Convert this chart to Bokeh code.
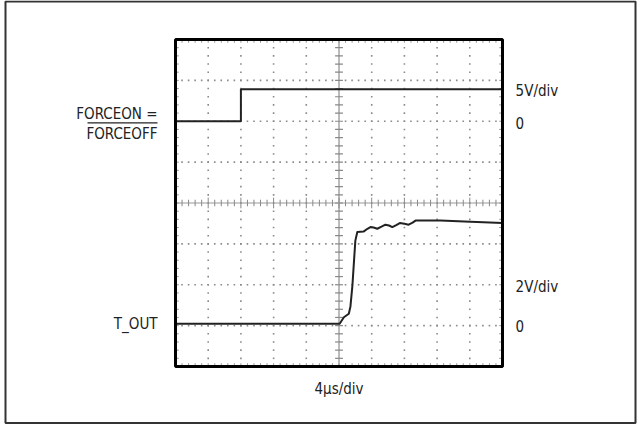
import numpy as np
from bokeh.plotting import figure
from bokeh.models import Range1d
from bokeh.core.properties import value
from bokeh.embed import file_html
from bokeh.resources import INLINE

# ---------------- data (scope divisions) ----------------
n_xdiv = 10
n_ydiv = 8

forceon_x = [0.0, 2.0, 2.0, 10.0]
forceon_y = [6.0, 6.0, 6.78, 6.78]

tout_x = [0.0, 5.02, 5.15, 5.30, 5.35, 5.41, 5.47, 5.50, 5.56, 5.75, 5.87, 5.96, 6.06,
          6.17, 6.30, 6.42, 6.53, 6.63, 6.75, 6.86, 7.00, 7.13, 7.25, 7.34, 8.10,
          9.02, 10.0]
tout_y = [1.045, 1.045, 1.206, 1.29, 1.47, 1.98, 2.72, 3.08, 3.29, 3.30, 3.37, 3.41, 3.40,
          3.37, 3.42, 3.47, 3.45, 3.41, 3.46, 3.51, 3.49, 3.47, 3.52, 3.57, 3.57,
          3.54, 3.51]

left_labels = ["FORCEON =", "FORCEOFF", "T_OUT"]
left_label_y = [6.18, 5.68, 1.03]
right_labels = ["5V/div", "0", "2V/div", "0"]
right_label_y = [6.74, 5.95, 1.94, 1.00]
time_label = "4\u03bcs/div"

# ---------------- layout ----------------
W, H = 637, 427
PX_X = 32.7      # px per x division
PX_Y = 40.875    # px per y division
scope_left_px = 175
scope_bottom_px = 366

x0 = -scope_left_px / PX_X
x1 = x0 + W / PX_X
y1 = scope_bottom_px / PX_Y
y0 = y1 - H / PX_Y

p = figure(width=W, height=H, output_backend="svg", toolbar_location=None,
           x_range=Range1d(x0, x1), y_range=Range1d(y0, y1),
           min_border=0, x_axis_type=None, y_axis_type=None)
p.grid.visible = False
p.outline_line_color = None
p.background_fill_color = "white"
p.border_fill_color = "white"

FONT = value("DejaVu Sans Condensed")
grey = "#8a8a8a"

# outer border
p.quad(left=x0 + 5 / PX_X, right=x1 - 2 / PX_X, bottom=y0 + 4.5 / PX_Y, top=y1 - 1 / PX_Y,
       fill_color=None, line_color="#333333", line_width=2)

# dotted grid
dots_x, dots_y = [], []
for gx in range(1, n_xdiv):
    if gx == n_xdiv // 2:
        continue
    ys = np.arange(0, n_ydiv + 0.001, 0.2)
    dots_x += [gx] * len(ys)
    dots_y += list(ys)
for gy in range(1, n_ydiv):
    if gy == n_ydiv // 2:
        continue
    xs = np.arange(0, n_xdiv + 0.001, 0.2)
    dots_x += list(xs)
    dots_y += [gy] * len(xs)
p.scatter(dots_x, dots_y, marker="square", size=1.6, fill_color=grey,
          line_color=None)

# center lines
cx, cy = n_xdiv / 2, n_ydiv / 2
p.segment(x0=[0], y0=[cy], x1=[n_xdiv], y1=[cy], line_color="#999999", line_width=1.2)
p.segment(x0=[cx], y0=[0], x1=[cx], y1=[n_ydiv], line_color="#bbbbbb", line_width=2)

# ticks on the center lines
tx = np.arange(0, n_xdiv + 0.001, 0.2)
tlen = np.where(np.isclose(tx % 1, 0) | np.isclose(tx % 1, 1), 0.13, 0.08)
p.segment(x0=tx, y0=cy - tlen, x1=tx, y1=cy + tlen, line_color="#888888", line_width=1)
ty = np.arange(0, n_ydiv + 0.001, 0.2)
tlen2 = np.full(len(ty), 0.12)
p.segment(x0=cx - tlen2, y0=ty, x1=cx + tlen2, y1=ty, line_color="#888888", line_width=1.2)

# ticks along the edges
p.segment(x0=tx, y0=np.zeros(len(tx)), x1=tx, y1=np.full(len(tx), 0.08),
          line_color="#999999", line_width=1)
p.segment(x0=tx, y0=np.full(len(tx), n_ydiv), x1=tx, y1=np.full(len(tx), n_ydiv - 0.08),
          line_color="#999999", line_width=1)
p.segment(x0=np.zeros(len(ty)), y0=ty, x1=np.full(len(ty), 0.1), y1=ty,
          line_color="#999999", line_width=1)
p.segment(x0=np.full(len(ty), n_xdiv), y0=ty, x1=np.full(len(ty), n_xdiv - 0.1), y1=ty,
          line_color="#999999", line_width=1)

# traces
p.line(forceon_x, forceon_y, line_color="#222222", line_width=2)
p.line(tout_x, tout_y, line_color="#222222", line_width=2, line_join="round")

# scope frame
p.quad(left=0, right=n_xdiv, bottom=0, top=n_ydiv, fill_color=None,
       line_color="black", line_width=3)

# left labels
lx = -0.55
p.text(x=[lx] * len(left_labels), y=left_label_y, text=left_labels,
       text_font=FONT, text_font_size="15px", text_color="#222222",
       text_align="right", text_baseline="middle")
# overline on FORCEOFF
p.segment(x0=[lx - 70 / PX_X], y0=[5.96], x1=[lx], y1=[5.96],
          line_color="#222222", line_width=1.3)

# right labels
rx = 10.4
p.text(x=[rx] * len(right_labels), y=right_label_y, text=right_labels,
       text_font=FONT, text_font_size="15px", text_color="#222222",
       text_align="left", text_baseline="middle")

# time label
p.text(x=[n_xdiv / 2], y=[-0.54], text=[time_label], text_font=FONT,
       text_font_size="15px", text_color="#222222", text_align="center",
       text_baseline="middle")

open("out.html", "w").write(file_html(p, INLINE))
